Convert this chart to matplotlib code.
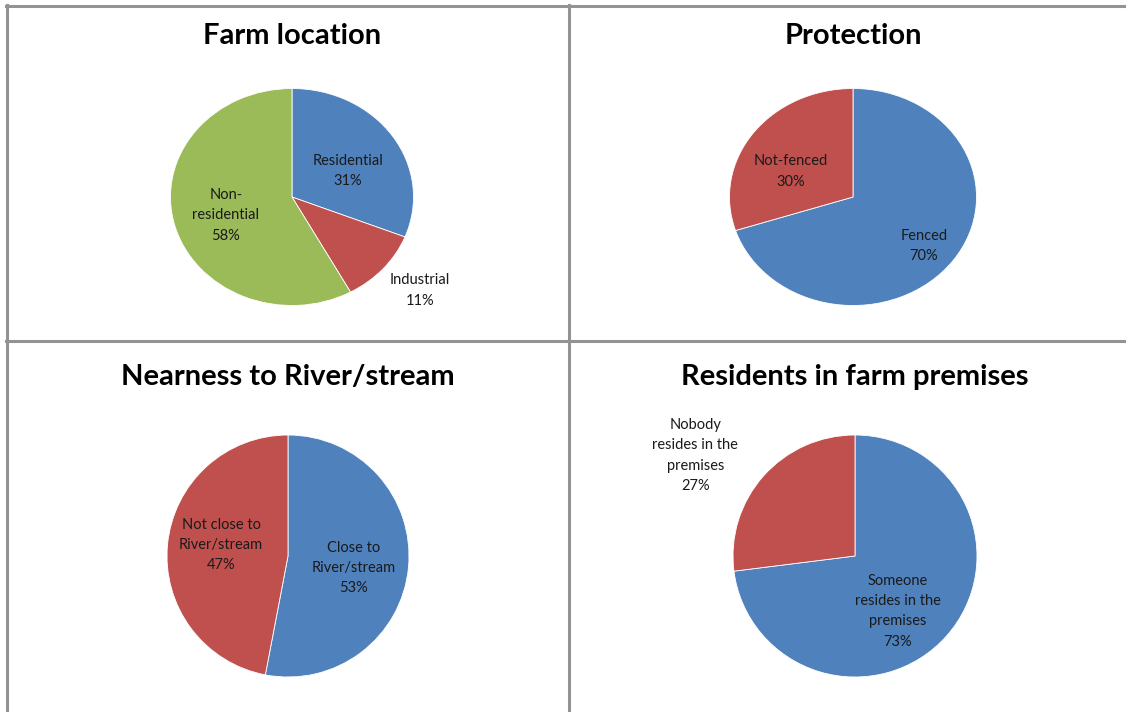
import numpy as np
import matplotlib
matplotlib.use('Agg')
import matplotlib.pyplot as plt
from matplotlib.lines import Line2D

plt.rcParams['font.family'] = ['Lato', 'DejaVu Sans']

BLUE = '#4F81BD'
RED = '#C0504D'
GREEN = '#9BBB59'

# data
farm_titles = 'Farm location'
farm_labels = ['Residential', 'Industrial', 'Non-\nresidential']
farm_values = [31, 11, 58]

prot_title = 'Protection'
prot_labels = ['Fenced', 'Not-fenced']
prot_values = [70, 30]

river_title = 'Nearness to River/stream'
river_labels = ['Close to\nRiver/stream', 'Not close to\nRiver/stream']
river_values = [53, 47]

res_title = 'Residents in farm premises'
res_labels = ['Someone\nresides in the\npremises', 'Nobody\nresides in the\npremises']
res_values = [73, 27]

W, H = 1126, 712
fig = plt.figure(figsize=(W / 100, H / 100), dpi=100)
fig.patch.set_facecolor('white')


def px_axes(cx, cy, rx, ry):
    # axes whose box is exactly the pie's bounding box (pixel coords, y down)
    return fig.add_axes([(cx - rx) / W, 1 - (cy + ry) / H, 2 * rx / W, 2 * ry / H])


def draw_pie(cx, cy, rx, ry, values, labels, colors, dists, shifts, title, title_y):
    ax = px_axes(cx, cy, rx, ry)
    wedges, _ = ax.pie(values, colors=colors, startangle=90, counterclock=False,
                       radius=1, wedgeprops=dict(edgecolor='white', linewidth=0.6))
    ax.set_aspect('auto')
    ax.set_xlim(-1, 1)
    ax.set_ylim(-1, 1)
    for w, lab, v, d, s in zip(wedges, labels, values, dists, shifts):
        ang = np.deg2rad((w.theta1 + w.theta2) / 2 + s)
        ax.text(d * np.cos(ang), d * np.sin(ang), f'{lab}\n{v}%', ha='center', va='center',
                fontsize=10.5, color='#1a1a1a', linespacing=1.58, clip_on=False)
    fig.text(cx / W, 1 - title_y / H, title, ha='center', va='center',
             fontsize=21, fontweight='bold', color='black')


draw_pie(292, 197, 121.5, 108.5, farm_values, farm_labels, [BLUE, RED, GREEN],
         [0.52, 1.36, 0.57], [-7, 2, 3], farm_titles, 36)
draw_pie(853, 197, 123.5, 108.5, prot_values, prot_labels, [BLUE, RED],
         [0.73, 0.56], [-2, 11], prot_title, 36)
draw_pie(288, 556, 121, 121, river_values, river_labels, [BLUE, RED],
         [0.55, 0.56], [-5, -4], river_title, 377)
draw_pie(855, 556, 122, 121, res_values, res_labels, [BLUE, RED],
         [0.575, 1.55], [-11, 9], res_title, 377)

# panel borders
def hline(y, x0, x1):
    fig.add_artist(Line2D([x0 / W, x1 / W], [1 - y / H, 1 - y / H], color='#939393', lw=2.2))


def vline(x, y0, y1):
    fig.add_artist(Line2D([x / W, x / W], [1 - y0 / H, 1 - y1 / H], color='#939393', lw=2.2))


hline(5.5, 6, W)
hline(341, 6, W)
vline(7, 5, H)
vline(568.5, 5, H)

fig.savefig('out.png', dpi=100, facecolor='white')
